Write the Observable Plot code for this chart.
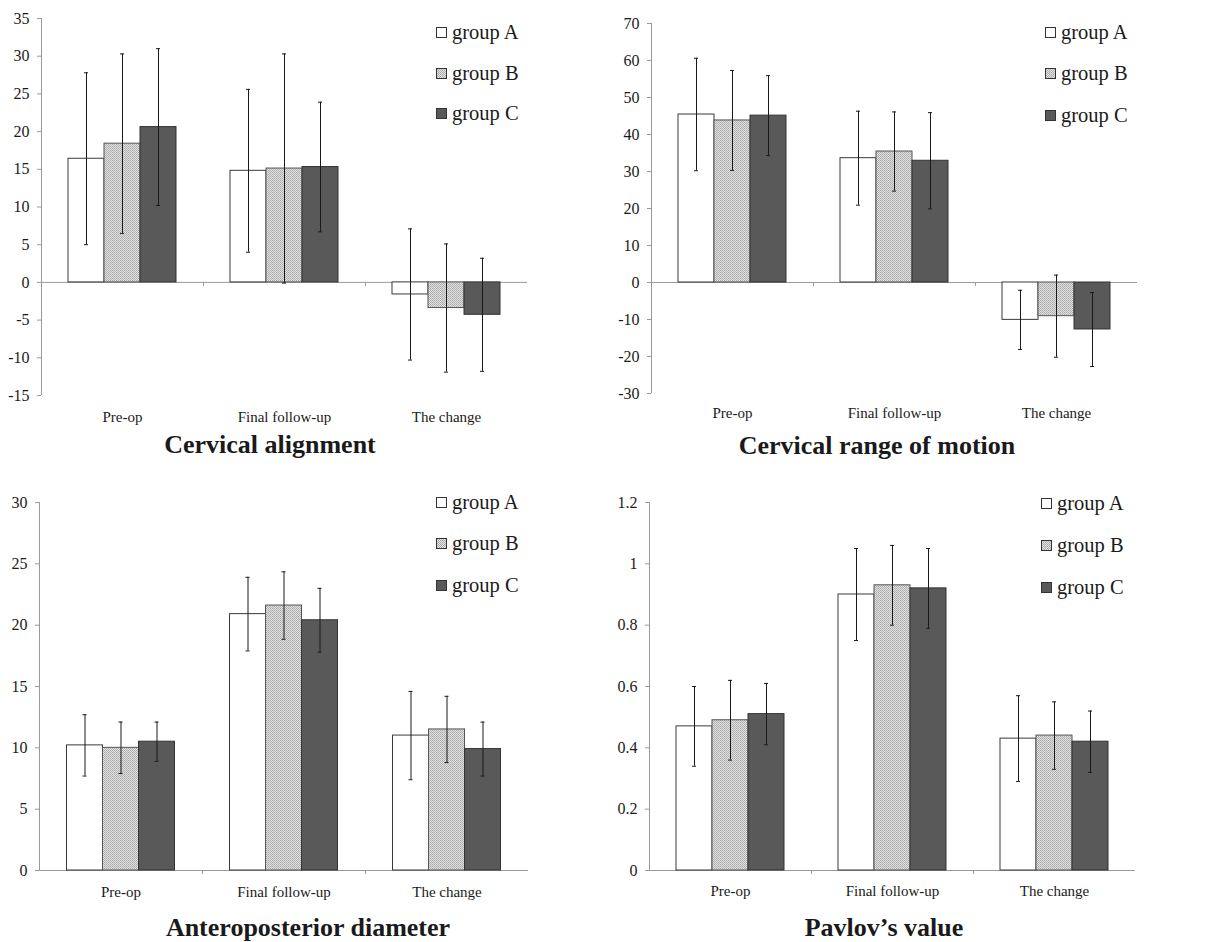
<!DOCTYPE html>
<html>
<head>
<meta charset="utf-8">
<script src="https://cdn.jsdelivr.net/npm/d3@7"></script>
<script src="https://cdn.jsdelivr.net/npm/@observablehq/plot@0.6"></script>
<style>
  body { margin: 0; background: #fff; }
  #root { position: relative; width: 1220px; height: 942px; overflow: hidden; font-family: "Liberation Serif", "Times New Roman", serif; color: #1a1a1a; }
  .panel { position: absolute; width: 610px; }
  .title { position: absolute; font-weight: bold; font-size: 26px; line-height: 26px; white-space: nowrap; transform: translateX(-50%); }
  .legend-item { position: absolute; display: flex; align-items: center; font-size: 20.5px; line-height: 20px; white-space: nowrap; transform: translateY(-50%); }
  .legend-item svg { margin-right: 5px; }
</style>
</head>
<body>
<svg width="0" height="0" style="position:absolute">
  <defs>
    <pattern id="patB" width="2" height="2" patternUnits="userSpaceOnUse">
      <rect width="2" height="2" fill="#e2e2e2"></rect>
      <rect x="0" y="0" width="1" height="1" fill="#a8a8a8"></rect>
      <rect x="1" y="1" width="1" height="1" fill="#b4b4b4"></rect>
    </pattern>
  </defs>
</svg>
<div id="root"></div>
<script>
// ---- data ----
const categories = ["Pre-op", "Final follow-up", "The change"];
const groups = ["group A", "group B", "group C"];

// rows: group A, B, C ; columns: Pre-op, Final follow-up, The change
const alignmentMean = [[16.4, 14.8, -1.6], [18.4, 15.1, -3.4], [20.6, 15.3, -4.3]];
const alignmentErr  = [[11.4, 10.8, 8.7], [11.9, 15.2, 8.5], [10.4, 8.6, 7.5]];
const alignmentTicks = [-15, -10, -5, 0, 5, 10, 15, 20, 25, 30, 35];

const romMean = [[45.4, 33.6, -10.1], [43.8, 35.4, -9.1], [45.1, 32.9, -12.7]];
const romErr  = [[15.2, 12.7, 8.0], [13.5, 10.7, 11.1], [10.8, 13.0, 10.0]];
const romTicks = [-30, -20, -10, 0, 10, 20, 30, 40, 50, 60, 70];

const apMean = [[10.2, 20.9, 11.0], [10.0, 21.6, 11.5], [10.5, 20.4, 9.9]];
const apErr  = [[2.5, 3.0, 3.6], [2.1, 2.75, 2.7], [1.6, 2.6, 2.2]];
const apTicks = [0, 5, 10, 15, 20, 25, 30];

const pavMean = [[0.47, 0.90, 0.43], [0.49, 0.93, 0.44], [0.51, 0.92, 0.42]];
const pavErr  = [[0.13, 0.15, 0.14], [0.13, 0.13, 0.11], [0.10, 0.13, 0.10]];
const pavTicks = [0, 0.2, 0.4, 0.6, 0.8, 1, 1.2];

const titles = ["Cervical alignment", "Cervical range of motion", "Anteroposterior diameter", "Pavlov\u2019s value"];

// ---- styling ----
const fills = ["#ffffff", "url(#patB)", "#595959"];
const barStroke = ["#3a3a3a", "#555555", "#333333"];
const axisGray = "#9a9a9a";
const ink = "#1a1a1a";
const barW = 36;

const layouts = [
  {left: 0,   top: 0,   height: 430, marginTop: 18, marginBottom: 35, marginLeft: 41, band: 162, labelGap: 16, titleX: 270, titleY: 432, legendX: 436, legendY: [32, 73, 113]},
  {left: 610, top: 0,   height: 430, marginTop: 23, marginBottom: 37, marginLeft: 41, band: 162, labelGap: 14, titleX: 267, titleY: 433, legendX: 435, legendY: [32, 73, 115]},
  {left: 0,   top: 470, height: 440, marginTop: 32, marginBottom: 40, marginLeft: 39, band: 163, labelGap: 16, titleX: 308, titleY: 445, legendX: 436, legendY: [32, 73, 115]},
  {left: 610, top: 470, height: 440, marginTop: 32, marginBottom: 40, marginLeft: 39, band: 162, labelGap: 15, titleX: 274, titleY: 445, legendX: 431, legendY: [33, 75, 117]}
];
const means = [alignmentMean, romMean, apMean, pavMean];
const errs = [alignmentErr, romErr, apErr, pavErr];
const tickSets = [alignmentTicks, romTicks, apTicks, pavTicks];

const root = document.getElementById("root");

layouts.forEach((L, p) => {
  const mean = means[p], err = errs[p], ticks = tickSets[p];
  const rows = [];
  groups.forEach((g, gi) => categories.forEach((c, ci) => {
    rows.push({group: g, gi, cat: c, value: mean[gi][ci], err: err[gi][ci]});
  }));
  const half = L.band / 2;
  const groupMarks = [];
  groups.forEach((g, gi) => {
    const data = rows.filter(d => d.gi === gi);
    const off = (gi - 1) * barW;
    groupMarks.push(Plot.barY(data, {
      x: "cat", y: "value", fill: fills[gi], stroke: barStroke[gi], strokeWidth: 1,
      insetLeft: half + off - barW / 2, insetRight: half - off - barW / 2
    }));
  });
  const errMarks = [];
  groups.forEach((g, gi) => {
    const data = rows.filter(d => d.gi === gi);
    const off = (gi - 1) * barW;
    errMarks.push(Plot.ruleX(data, {x: "cat", y1: d => d.value - d.err, y2: d => d.value + d.err, dx: off, stroke: ink, strokeWidth: 1}));
    errMarks.push(Plot.tickY(data, {x: "cat", y: d => d.value + d.err, dx: off, insetLeft: half - 2, insetRight: half - 2, stroke: ink}));
    errMarks.push(Plot.tickY(data, {x: "cat", y: d => d.value - d.err, dx: off, insetLeft: half - 2, insetRight: half - 2, stroke: ink}));
  });

  const chart = Plot.plot({
    width: 610,
    height: L.height,
    marginTop: L.marginTop,
    marginBottom: L.marginBottom,
    marginLeft: L.marginLeft,
    marginRight: 610 - L.marginLeft - 3 * L.band,
    style: {fontFamily: "'Liberation Serif', 'Times New Roman', serif", color: ink, background: "transparent", overflow: "visible"},
    x: {type: "band", domain: categories, padding: 0, axis: null, label: null},
    y: {domain: [ticks[0], ticks[ticks.length - 1]], axis: null, label: null},
    marks: [
      Plot.ruleY([0], {stroke: axisGray}),
      ...groupMarks,
      ...errMarks,
      Plot.ruleX(categories.slice(1), {x: d => d, y1: () => 0, y2: () => 0, dx: -half, insetBottom: -4, stroke: axisGray}),
      Plot.ruleX(categories.slice(0, 1), {x: d => d, dx: -half, stroke: axisGray}),
      Plot.axisY(ticks, {tickSize: 4, tickPadding: 8, fontSize: 16, stroke: axisGray, fill: ink, label: null, tickFormat: d => String(d)}),
      Plot.axisX(categories, {tickSize: 0, tickPadding: L.labelGap, fontSize: 15, fill: ink, label: null})
    ]
  });

  const div = document.createElement("div");
  div.className = "panel";
  div.style.left = L.left + "px";
  div.style.top = L.top + "px";
  div.appendChild(chart);

  const t = document.createElement("div");
  t.className = "title";
  t.textContent = titles[p];
  t.style.left = L.titleX + "px";
  t.style.top = L.titleY + "px";
  div.appendChild(t);

  groups.forEach((g, gi) => {
    const item = document.createElement("div");
    item.className = "legend-item";
    item.style.left = L.legendX + "px";
    item.style.top = L.legendY[gi] + "px";
    item.innerHTML = `<svg width="11" height="11"><rect x="0.5" y="0.5" width="10" height="10" fill="${fills[gi]}" stroke="#333"></rect></svg><span>${g}</span>`;
    div.appendChild(item);
  });

  root.appendChild(div);
});
</script>
</body>
</html>
